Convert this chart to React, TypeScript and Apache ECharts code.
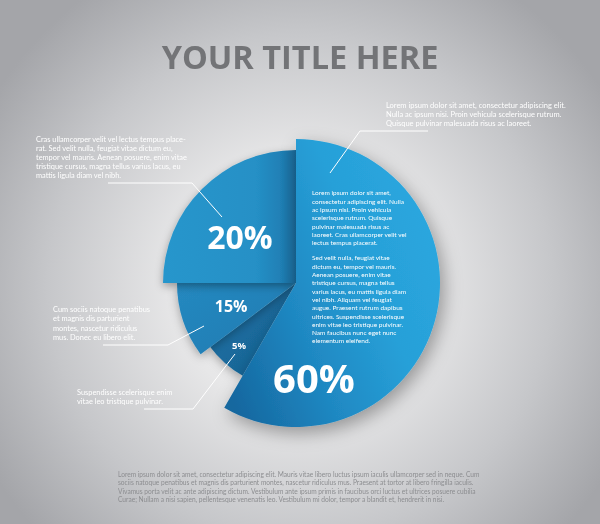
import React, { useEffect, useRef } from "react";
import * as echarts from "echarts";

// ---- data ----
// clockwise from 12 o'clock
const sliceNames = ["A", "B", "C", "D"];
const sliceValues = [60, 5, 15, 20]; // printed percentages
const sliceSweep = [58.3, 6.5, 10.2, 25]; // share of the circle each slice is drawn with

const titleText = "YOUR TITLE HERE";

const noteTopRight = [
  "Lorem ipsum dolor sit amet, consectetur adipiscing elit.",
  "Nulla ac ipsum nisi. Proin vehicula scelerisque rutrum.",
  "Quisque pulvinar malesuada risus ac laoreet.",
];
const noteTopLeft = [
  "Cras ullamcorper velit vel lectus tempus place-",
  "rat. Sed velit nulla, feugiat vitae dictum eu,",
  "tempor vel mauris. Aenean posuere, enim vitae",
  "tristique cursus, magna tellus varius lacus, eu",
  "mattis ligula diam vel nibh.",
];
const noteMidLeft = [
  "Cum sociis natoque penatibus",
  "et magnis dis parturient",
  "montes, nascetur ridiculus",
  "mus. Donec eu libero elit.",
];
const noteLowLeft = ["Suspendisse scelerisque enim", "vitae leo tristique pulvinar."];
const innerPara1 = [
  "Lorem ipsum dolor sit amet,",
  "consectetur adipiscing elit. Nulla",
  "ac ipsum nisi. Proin vehicula",
  "scelerisque rutrum. Quisque",
  "pulvinar malesuada risus ac",
  "laoreet. Cras ullamcorper velit vel",
  "lectus tempus placerat.",
];
const innerPara2 = [
  "Sed velit nulla, feugiat vitae",
  "dictum eu, tempor vel mauris.",
  "Aenean posuere, enim vitae",
  "tristique cursus, magna tellus",
  "varius lacus, eu mattis ligula diam",
  "vel nibh. Aliquam vel feugiat",
  "augue. Praesent rutrum dapibus",
  "ultrices. Suspendisse scelerisque",
  "enim vitae leo tristique pulvinar.",
  "Nam faucibus nunc eget nunc",
  "elementum eleifend.",
];
const footerLines = [
  "Lorem ipsum dolor sit amet, consectetur adipiscing elit. Mauris vitae libero luctus ipsum iaculis ullamcorper sed in neque. Cum",
  "sociis natoque penatibus et magnis dis parturient montes, nascetur ridiculus mus. Praesent at tortor at libero fringilla iaculis.",
  "Vivamus porta velit ac ante adipiscing dictum. Vestibulum ante ipsum primis in faucibus orci luctus et ultrices posuere cubilia",
  "Curae; Nullam a nisi sapien, pellentesque venenatis leo. Vestibulum mi dolor, tempor a blandit et, hendrerit in nisi.",
];

const SMALL = "Lato, 'Open Sans', sans-serif";
const BOLD = "'Open Sans', Lato, sans-serif";

function buildOption() {
  const LG = echarts.graphic.LinearGradient;
  const styles = [
    {
      r: 144,
      z: 8,
      fontSize: 40,
      dx: -54.5,
      dy: 75,
      item: {
        color: new LG(0, 0.85, 1, 0.3, [
          { offset: 0, color: "#15679f" },
          { offset: 0.35, color: "#1f88c2" },
          { offset: 0.68, color: "#27a0d8" },
          { offset: 1, color: "#2ba7df" },
        ]),
        shadowBlur: 18,
        shadowOffsetX: 4,
        shadowOffsetY: 6,
        shadowColor: "rgba(0,0,0,0.35)",
      },
    },
    {
      r: 107,
      z: 2,
      fontSize: 9.5,
      dx: -19.4,
      dy: 20,
      item: {
        color: new LG(0, 0, 1, 1, [
          { offset: 0, color: "#1f78ad" },
          { offset: 1, color: "#155c8b" },
        ]),
        shadowBlur: 10,
        shadowOffsetY: 3,
        shadowColor: "rgba(0,0,0,0.3)",
      },
    },
    {
      r: 119,
      z: 4,
      fontSize: 16,
      dx: -5.5,
      dy: 3.3,
      item: {
        color: new LG(0, 0, 1, 1, [
          { offset: 0, color: "#2589c0" },
          { offset: 0.6, color: "#2280b7" },
          { offset: 1, color: "#196a9c" },
        ]),
        shadowBlur: 10,
        shadowOffsetY: 3,
        shadowColor: "rgba(0,0,0,0.3)",
      },
    },
    {
      r: 133,
      z: 6,
      fontSize: 32,
      dx: -7,
      dy: 3,
      item: {
        color: new LG(0, 0, 1, 0, [
          { offset: 0, color: "#2896cc" },
          { offset: 0.7, color: "#2590c6" },
          { offset: 0.88, color: "#2080b6" },
          { offset: 1, color: "#196897" },
        ]),
        shadowBlur: 8,
        shadowOffsetY: 3,
        shadowColor: "rgba(0,0,0,0.35)",
      },
    },
  ];

  const series = sliceValues.map((v, i) => {
    const s = styles[i];
    return {
      type: "pie",
      z: s.z,
      center: [296, 283],
      radius: [0, s.r],
      startAngle: 90,
      clockwise: true,
      silent: true,
      avoidLabelOverlap: false,
      padAngle: 0,
      emphasis: { disabled: true },
      labelLine: { show: false },
      labelLayout: { dx: s.dx, dy: s.dy },
      data: sliceSweep.map((sw, j) => ({
        name: sliceNames[j],
        value: sw,
        itemStyle:
          j === i
            ? { ...s.item, borderWidth: 0 }
            : { color: "rgba(0,0,0,0)", borderWidth: 0 },
        label:
          j === i
            ? {
                show: true,
                position: "inside",
                formatter: () => `${v}%`,
                color: "#ffffff",
                fontFamily: BOLD,
                fontWeight: "bold",
                fontSize: s.fontSize,
              }
            : { show: false },
      })),
    };
  });

  const txt = (x: number, y: number, lines: string[], size: number, lh: number, fill: string) => ({
    type: "text",
    x,
    y,
    z: 20,
    silent: true,
    style: {
      text: lines.join("\n"),
      fill,
      fontFamily: SMALL,
      fontSize: size,
      lineHeight: lh,
      verticalAlign: "top",
      align: "left",
    },
  });
  const line = (pts: number[][]) => ({
    type: "polyline",
    z: 20,
    silent: true,
    shape: { points: pts },
    style: { stroke: "#ffffff", lineWidth: 1, fill: null },
  });

  return {
    animation: false,
    title: {
      text: titleText,
      left: "center",
      top: 35,
      textStyle: {
        fontFamily: BOLD,
        fontWeight: "bold",
        fontSize: 32.5,
        color: "#737477",
      },
    },
    graphic: [
      {
        type: "rect",
        z: -10,
        silent: true,
        shape: { x: 0, y: 0, width: 600, height: 524 },
        style: {
          fill: new echarts.graphic.RadialGradient(
            300,
            285,
            360,
            [
              { offset: 0, color: "#f4f4f4" },
              { offset: 0.35, color: "#e7e7e8" },
              { offset: 0.7, color: "#c6c7ca" },
              { offset: 1, color: "#a4a5a9" },
            ],
            true
          ),
        },
      },
      txt(386, 100.5, noteTopRight, 7.5, 9, "#ffffff"),
      txt(36, 134.5, noteTopLeft, 7.4, 9.2, "#ffffff"),
      txt(53, 304.5, noteMidLeft, 7.4, 9.4, "#ffffff"),
      txt(77, 387.5, noteLowLeft, 7.4, 9.2, "#ffffff"),
      txt(312, 188.8, innerPara1, 6.5, 8.33, "#ffffff"),
      txt(312, 253.8, innerPara2, 6.5, 8.3, "#ffffff"),
      txt(118, 469.8, footerLines, 6.6, 8.35, "#8c8d90"),
      line([
        [428, 131],
        [360, 131],
        [330, 173],
      ]),
      line([
        [108, 183],
        [192, 183],
        [222, 217],
      ]),
      line([
        [103, 345],
        [168, 345],
        [204, 326],
      ]),
      line([
        [144, 409],
        [193, 409],
        [235, 354],
      ]),
    ],
    series,
  };
}

export default function App() {
  const ref = useRef<HTMLDivElement>(null);
  useEffect(() => {
    if (!ref.current) return;
    const chart = echarts.init(ref.current, null, { renderer: "svg" });
    chart.setOption(buildOption() as any);
    return () => chart.dispose();
  }, []);
  return (
    <div
      ref={ref}
      style={{ position: "fixed", left: 0, top: 0, width: 600, height: 524 }}
    />
  );
}
